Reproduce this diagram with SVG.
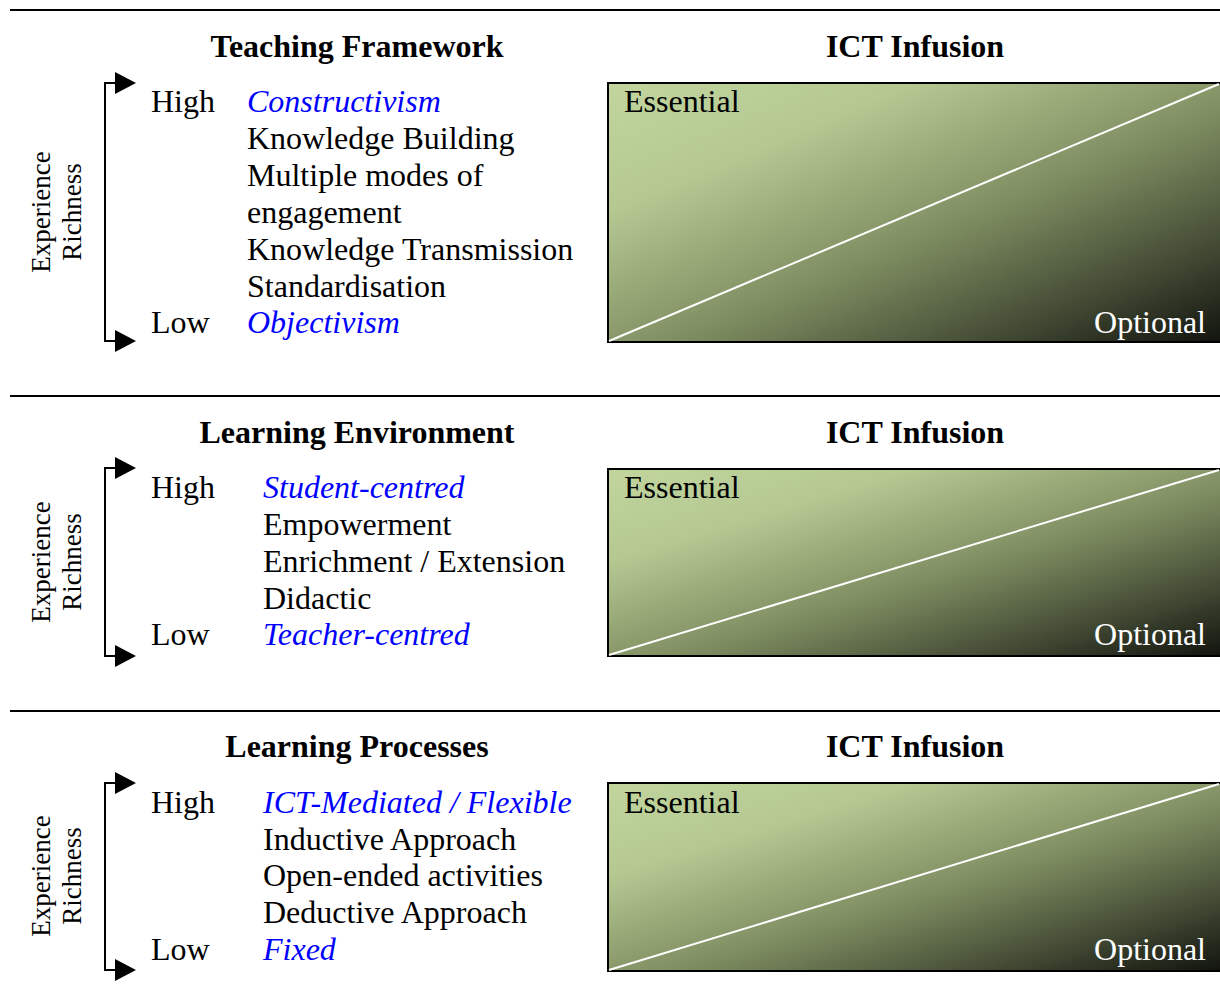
<svg xmlns="http://www.w3.org/2000/svg" width="1220" height="1005" viewBox="0 0 1220 1005">
<defs>
<linearGradient id="g" x1="0" y1="0" x2="1" y2="1">
<stop offset="0" stop-color="#c1d59d"/>
<stop offset="0.25" stop-color="#b5c892"/>
<stop offset="0.55" stop-color="#808f62"/>
<stop offset="0.8" stop-color="#454d36"/>
<stop offset="1" stop-color="#12140e"/>
</linearGradient>
<marker id="ah" markerWidth="21" markerHeight="22" refX="0" refY="11" orient="auto" markerUnits="userSpaceOnUse">
<path d="M0,0 L21,11 L0,22 Z" fill="#000"/>
</marker>
</defs>
<style>
text{font-family:"Liberation Serif","Times New Roman",serif;font-size:32px;fill:#000}
.t{font-weight:bold;text-anchor:middle}
.b{fill:#0000ff;font-style:italic}
.v{font-size:27px;text-anchor:middle}
.w{fill:#fff;text-anchor:end}
.rule{stroke:#000;stroke-width:2}
.br{fill:none;stroke:#000;stroke-width:2;marker-end:url(#ah)}
.box{fill:url(#g)}
.edge{fill:none;stroke:#000;stroke-width:2}
.diag{stroke:#fff;stroke-width:2}
</style>

<g id="rules">
<line class="rule" x1="10" y1="10" x2="1220" y2="10"/>
<line class="rule" x1="10" y1="396" x2="1220" y2="396"/>
<line class="rule" x1="10" y1="711" x2="1220" y2="711"/>
</g>

<g id="connectors">
<path class="br" d="M105,212 V83 H115"/>
<path class="br" d="M105,212 V341 H115"/>
<path class="br" d="M105,562 V468 H115"/>
<path class="br" d="M105,562 V656 H115"/>
<path class="br" d="M105,876 V783 H115"/>
<path class="br" d="M105,876 V970 H115"/>
</g>

<g id="panel1-framework">
<text class="t" x="357" y="57">Teaching Framework</text>
<text class="v" transform="translate(50,212) rotate(-90)">Experience</text>
<text class="v" transform="translate(81,212) rotate(-90)">Richness</text>
<text x="151" y="112">High</text>
<text class="b" x="247" y="112">Constructivism</text>
<text x="247" y="149">Knowledge Building</text>
<text x="247" y="186">Multiple modes of</text>
<text x="247" y="223">engagement</text>
<text x="247" y="260">Knowledge Transmission</text>
<text x="247" y="297">Standardisation</text>
<text x="151" y="333">Low</text>
<text class="b" x="247" y="333">Objectivism</text>
</g>

<g id="panel1-ict">
<text class="t" x="915" y="57">ICT Infusion</text>
<rect class="box" x="608" y="83" width="612" height="259"/>
<path class="edge" d="M1222,83 H608 V342 H1222"/>
<line class="diag" x1="609" y1="341" x2="1219" y2="84"/>
<text x="624" y="112">Essential</text>
<text class="w" x="1206" y="333">Optional</text>
</g>

<g id="panel2-environment">
<text class="t" x="357" y="443">Learning Environment</text>
<text class="v" transform="translate(50,562) rotate(-90)">Experience</text>
<text class="v" transform="translate(81,562) rotate(-90)">Richness</text>
<text x="151" y="498">High</text>
<text class="b" x="263" y="498">Student-centred</text>
<text x="263" y="535">Empowerment</text>
<text x="263" y="572">Enrichment / Extension</text>
<text x="263" y="609">Didactic</text>
<text x="151" y="645">Low</text>
<text class="b" x="263" y="645">Teacher-centred</text>
</g>

<g id="panel2-ict">
<text class="t" x="915" y="443">ICT Infusion</text>
<rect class="box" x="608" y="469" width="612" height="187"/>
<path class="edge" d="M1222,469 H608 V656 H1222"/>
<line class="diag" x1="609" y1="655" x2="1219" y2="470"/>
<text x="624" y="498">Essential</text>
<text class="w" x="1206" y="645">Optional</text>
</g>

<g id="panel3-processes">
<text class="t" x="357" y="757">Learning Processes</text>
<text class="v" transform="translate(50,876) rotate(-90)">Experience</text>
<text class="v" transform="translate(81,876) rotate(-90)">Richness</text>
<text x="151" y="813">High</text>
<text class="b" x="263" y="813">ICT-Mediated / Flexible</text>
<text x="263" y="850">Inductive Approach</text>
<text x="263" y="886">Open-ended activities</text>
<text x="263" y="923">Deductive Approach</text>
<text x="151" y="960">Low</text>
<text class="b" x="263" y="960">Fixed</text>
</g>

<g id="panel3-ict">
<text class="t" x="915" y="757">ICT Infusion</text>
<rect class="box" x="608" y="783" width="612" height="188"/>
<path class="edge" d="M1222,783 H608 V971 H1222"/>
<line class="diag" x1="609" y1="970" x2="1219" y2="784"/>
<text x="624" y="813">Essential</text>
<text class="w" x="1206" y="960">Optional</text>
</g>
</svg>
